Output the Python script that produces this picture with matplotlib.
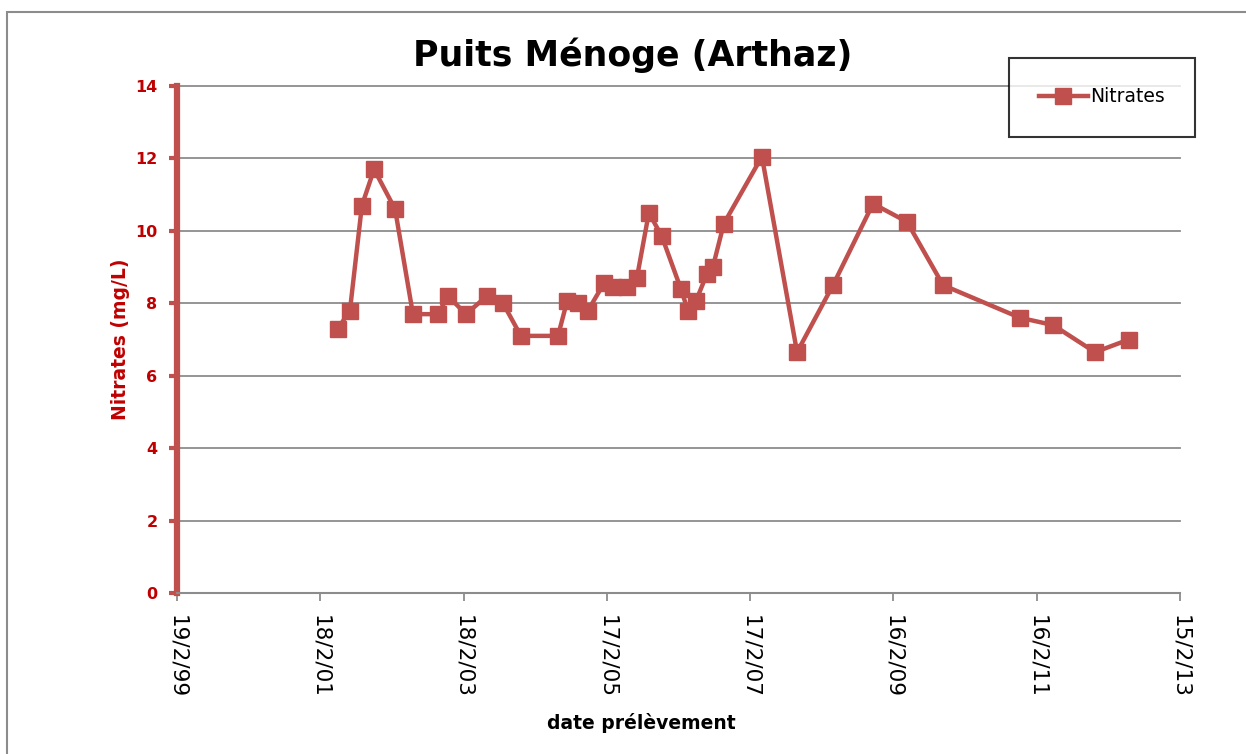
import pandas as pd
import matplotlib.pyplot as plt
import matplotlib.dates as mdates
from matplotlib.patches import Rectangle

dates = ['2001-05-19', '2001-07-19', '2001-09-18', '2001-11-19', '2002-03-06',
         '2002-06-05', '2002-10-11', '2002-12-01', '2003-03-02', '2003-06-17',
         '2003-09-07', '2003-12-07', '2004-06-13', '2004-07-29', '2004-09-23',
         '2004-11-13', '2005-02-02', '2005-03-20', '2005-05-30', '2005-07-20',
         '2005-09-19', '2005-11-24', '2006-03-01', '2006-04-06', '2006-05-16',
         '2006-07-11', '2006-08-11', '2006-10-06', '2007-04-18', '2007-10-14',
         '2008-04-14', '2008-11-04', '2009-04-26', '2009-10-27', '2010-11-23',
         '2011-05-10', '2011-12-10', '2012-05-31']
nitrates = [7.3, 7.8, 10.7, 11.7, 10.6,
            7.7, 7.7, 8.2, 7.7, 8.2,
            8.0, 7.1, 7.1, 8.05, 8.0,
            7.8, 8.55, 8.45, 8.45, 8.7,
            10.5, 9.85, 8.4, 7.8, 8.05,
            8.8, 9.0, 10.2, 12.05, 6.65,
            8.5, 10.75, 10.25, 8.5, 7.6,
            7.4, 6.65, 7.0]
tick_dates = ['1999-02-19', '2001-02-18', '2003-02-18', '2005-02-17',
              '2007-02-17', '2009-02-16', '2011-02-16', '2013-02-15']
tick_labels = ['19/2/99', '18/2/01', '18/2/03', '17/2/05',
               '17/2/07', '16/2/09', '16/2/11', '15/2/13']

red = '#C0504D'
dark_red = '#C00000'

x = pd.to_datetime(dates)
ticks = mdates.date2num(pd.to_datetime(tick_dates))

fig = plt.figure(figsize=(12.46, 7.54), dpi=100)
ax = fig.add_axes([177/1246, 1 - 593/754, 1003/1246, 507/754])

# outer chart frame
fig.patches.append(Rectangle((7/1246, -0.1), 1.2, 1 - 12/754 + 0.1, transform=fig.transFigure,
                             fill=False, edgecolor='#8c8c8c', linewidth=1.5, zorder=0))

line, = ax.plot(x, nitrates, color=red, linewidth=3.2, marker='s', markersize=11,
                markeredgecolor=red, label='Nitrates', zorder=3, clip_on=False)

ax.set_xlim(ticks[0], ticks[-1])
ax.set_ylim(0, 14)
ax.set_yticks(range(0, 15, 2))
ax.set_xticks(ticks)
ax.set_xticklabels(tick_labels, rotation=-90, fontsize=15.5, color='black')
ax.yaxis.grid(True, color='#8c8c8c', linewidth=1.3, clip_on=False)
ax.set_axisbelow(True)

for s in ['top', 'right']:
    ax.spines[s].set_visible(False)
ax.spines['left'].set_color(red)
ax.spines['left'].set_linewidth(4.5)
ax.spines['bottom'].set_color('#8c8c8c')
ax.spines['bottom'].set_linewidth(1.5)
ax.tick_params(axis='y', colors=red, length=6, width=3, labelcolor=dark_red,
               labelsize=11.5, pad=8)
ax.tick_params(axis='x', colors='#8c8c8c', length=6, width=1.3, labelcolor='black', pad=10)
for lab in ax.get_yticklabels():
    lab.set_fontweight('bold')

ax.set_ylabel('Nitrates (mg/L)', color=dark_red, fontsize=13.5, fontweight='bold', labelpad=4)
ax.set_xlabel('date prélèvement', fontsize=13.5, fontweight='bold')
ax.xaxis.set_label_coords((641 - 177) / 1003, -(723 - 593) / 507)
ax.xaxis.label.set_va('center')
fig.suptitle('Puits Ménoge (Arthaz)', fontsize=25, fontweight='bold', x=633/1246, y=1 - 55/754,
             va='center')

leg = fig.legend(handles=[line], loc='center', bbox_to_anchor=(1102/1246, 1 - 97/754),
                 frameon=True, fancybox=False, edgecolor='black', fontsize=13.5,
                 borderpad=1.6, handlelength=2.6, handletextpad=0.15, borderaxespad=0)
leg.get_frame().set_linewidth(1.5)

plt.savefig('out.png', dpi=100)
